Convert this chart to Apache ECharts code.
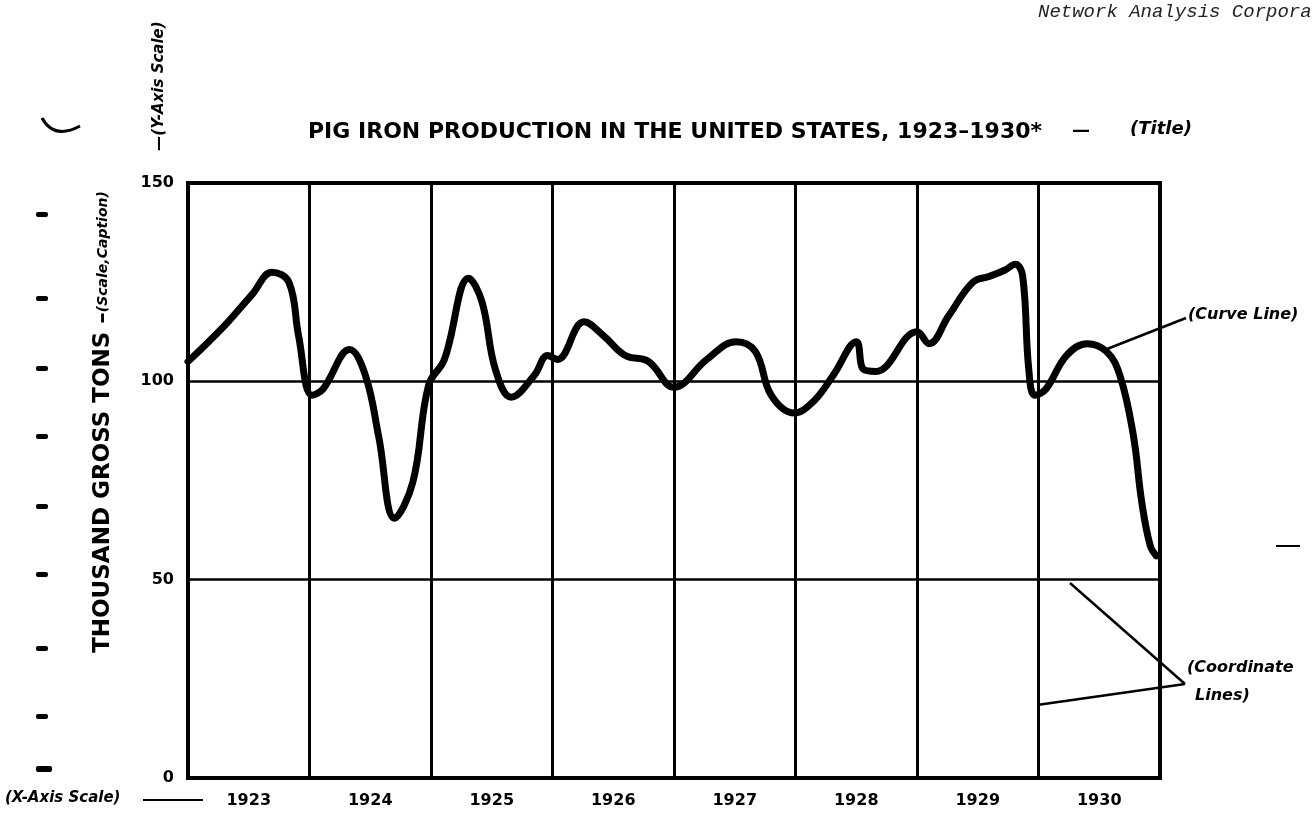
<!DOCTYPE html>
<html>
<head>
<meta charset="utf-8">
<script src="https://cdn.jsdelivr.net/npm/echarts@6/dist/echarts.min.js"></script>
<style>
  html, body { margin: 0; padding: 0; background: #fff; }
  #main { width: 1315px; height: 826px; }
</style>
</head>
<body>
<div id="main"></div>
<script>
// categories on the year axis
var years = ['1923', '1924', '1925', '1926', '1927', '1928', '1929', '1930'];
// position along the time axis, in years from the start of 1923
var yearPos = [0.00, 0.17, 0.33, 0.53, 0.69, 0.83, 0.91, 1.02, 1.11, 1.33,
               1.46, 1.57, 1.70, 1.85, 1.98, 2.11, 2.31, 2.42, 2.53, 2.66,
               2.85, 2.96, 3.04, 3.26, 3.42, 3.60, 3.79, 4.00, 4.27, 4.51,
               4.67, 4.80, 4.99, 5.15, 5.31, 5.50, 5.56, 5.66, 6.00, 6.10,
               6.26, 6.46, 6.60, 6.72, 6.81, 6.87, 6.92, 6.97, 7.06, 7.23,
               7.40, 7.56, 7.67, 7.78, 7.85, 7.92, 7.97];
// thousand gross tons
var tons = [105, 110, 115, 122, 127.5, 125, 111.5, 96.5, 98, 108,
            101.5, 86, 65.5, 74.5, 99, 105.5, 126, 120, 103, 96,
            101.5, 106.5, 105.5, 115, 111.5, 106.5, 105, 98.5, 105.5, 110,
            107.5, 96.5, 92, 95, 101.5, 110, 103, 102.5, 112.5, 109.5,
            116.5, 125, 126.5, 128, 129.5, 126.5, 103, 96.5, 98, 106.5,
            109.5, 107.5, 101.5, 86.5, 69.5, 58.5, 56];

var BOLD = 'DejaVu Sans';
var chart = echarts.init(document.getElementById('main'));

var points = yearPos.map(function (t, i) { return [t, tons[i]]; });

// scan marks on the left margin
var leftDashes = [214, 298, 368, 436, 506, 574, 648, 716, 768];
var graphics = leftDashes.map(function (y, i) {
    return {
        type: 'rect',
        shape: { x: 36, y: y - 2, width: i === 8 ? 16 : 12, height: i === 8 ? 6 : 5, r: 2 },
        style: { fill: '#000' }
    };
});

graphics = graphics.concat([
    { type: 'bezierCurve', shape: { x1: 42, y1: 118, cpx1: 54, cpy1: 140, x2: 80, y2: 126 },
      style: { stroke: '#000', lineWidth: 3, fill: null } },
    { type: 'text', left: 1038, top: 2,
      style: { text: 'Network Analysis Corpora', fill: '#222', font: 'italic 19px "Liberation Mono"' } },
    { type: 'text', left: 308, top: 121,
      style: { text: 'PIG IRON PRODUCTION IN THE UNITED STATES, 1923\u20131930*', fill: '#000',
               font: 'bold 22px "' + BOLD + '"' } },
    { type: 'text', left: 1072, top: 122,
      style: { text: '\u2014', fill: '#000', font: 'bold 18px "' + BOLD + '"' } },
    { type: 'text', left: 1130, top: 120,
      style: { text: '(Title)', fill: '#000', font: 'italic bold 18px "' + BOLD + '"' } },
    // y axis caption
    { type: 'text', x: 103, y: 422, rotation: Math.PI / 2,
      style: { text: '{a|THOUSAND GROSS TONS \u2013}{b|(Scale,Caption)}', align: 'center', verticalAlign: 'middle',
               rich: {
                   a: { font: 'bold 23px "' + BOLD + '"', fill: '#000' },
                   b: { font: 'italic bold 14px "' + BOLD + '"', fill: '#000' }
               } } },
    { type: 'text', x: 159, y: 86, rotation: Math.PI / 2,
      style: { text: '\u2014(Y-Axis Scale)', align: 'center', verticalAlign: 'middle',
               font: 'italic bold 15px "' + BOLD + '"', fill: '#000' } },
    { type: 'text', left: 5, top: 791,
      style: { text: '(X-Axis Scale)', fill: '#000', font: 'italic bold 15px "' + BOLD + '"' } },
    { type: 'line', shape: { x1: 143, y1: 800, x2: 203, y2: 800 }, style: { stroke: '#000', lineWidth: 2 } },
    // annotations
    { type: 'line', shape: { x1: 1107, y1: 349, x2: 1186, y2: 318 }, style: { stroke: '#000', lineWidth: 2.5 } },
    { type: 'text', left: 1188, top: 307,
      style: { text: '(Curve Line)', fill: '#000', font: 'italic bold 16px "' + BOLD + '"' } },
    { type: 'line', shape: { x1: 1070, y1: 583, x2: 1185, y2: 684 }, style: { stroke: '#000', lineWidth: 2.5 } },
    { type: 'line', shape: { x1: 1037, y1: 705, x2: 1185, y2: 684 }, style: { stroke: '#000', lineWidth: 2.5 } },
    { type: 'text', left: 1187, top: 660,
      style: { text: '(Coordinate', fill: '#000', font: 'italic bold 16px "' + BOLD + '"' } },
    { type: 'text', left: 1195, top: 688,
      style: { text: 'Lines)', fill: '#000', font: 'italic bold 16px "' + BOLD + '"' } },
    { type: 'line', shape: { x1: 1276, y1: 546, x2: 1300, y2: 546 }, style: { stroke: '#000', lineWidth: 2 } }
]);

var option = {
    backgroundColor: '#fff',
    animation: false,
    grid: {
        left: 188, right: 155, top: 183, bottom: 48,
        show: true, borderColor: '#000', borderWidth: 4
    },
    xAxis: [
        {
            type: 'category',
            data: years,
            boundaryGap: true,
            axisLine: { show: false },
            axisTick: { show: false },
            axisLabel: { color: '#000', fontFamily: BOLD, fontWeight: 'bold', fontSize: 16, margin: 15 },
            splitLine: { show: true, interval: 0, lineStyle: { color: '#000', width: 3 } }
        },
        {
            type: 'value',
            min: 0, max: 8,
            show: false
        }
    ],
    yAxis: {
        type: 'value',
        min: 0, max: 150, interval: 50,
        axisLine: { show: false },
        axisTick: { show: false },
        axisLabel: { color: '#000', fontFamily: BOLD, fontWeight: 'bold', fontSize: 16, margin: 14 },
        splitLine: { show: true, lineStyle: { color: '#000', width: 2.5 } }
    },
    series: [
        {
            type: 'line',
            xAxisIndex: 1,
            data: points,
            smooth: 0.4,
            showSymbol: false,
            lineStyle: { color: '#000', width: 7, cap: 'round', join: 'round' }
        }
    ],
    graphic: graphics
};
chart.setOption(option);
</script>
</body>
</html>
